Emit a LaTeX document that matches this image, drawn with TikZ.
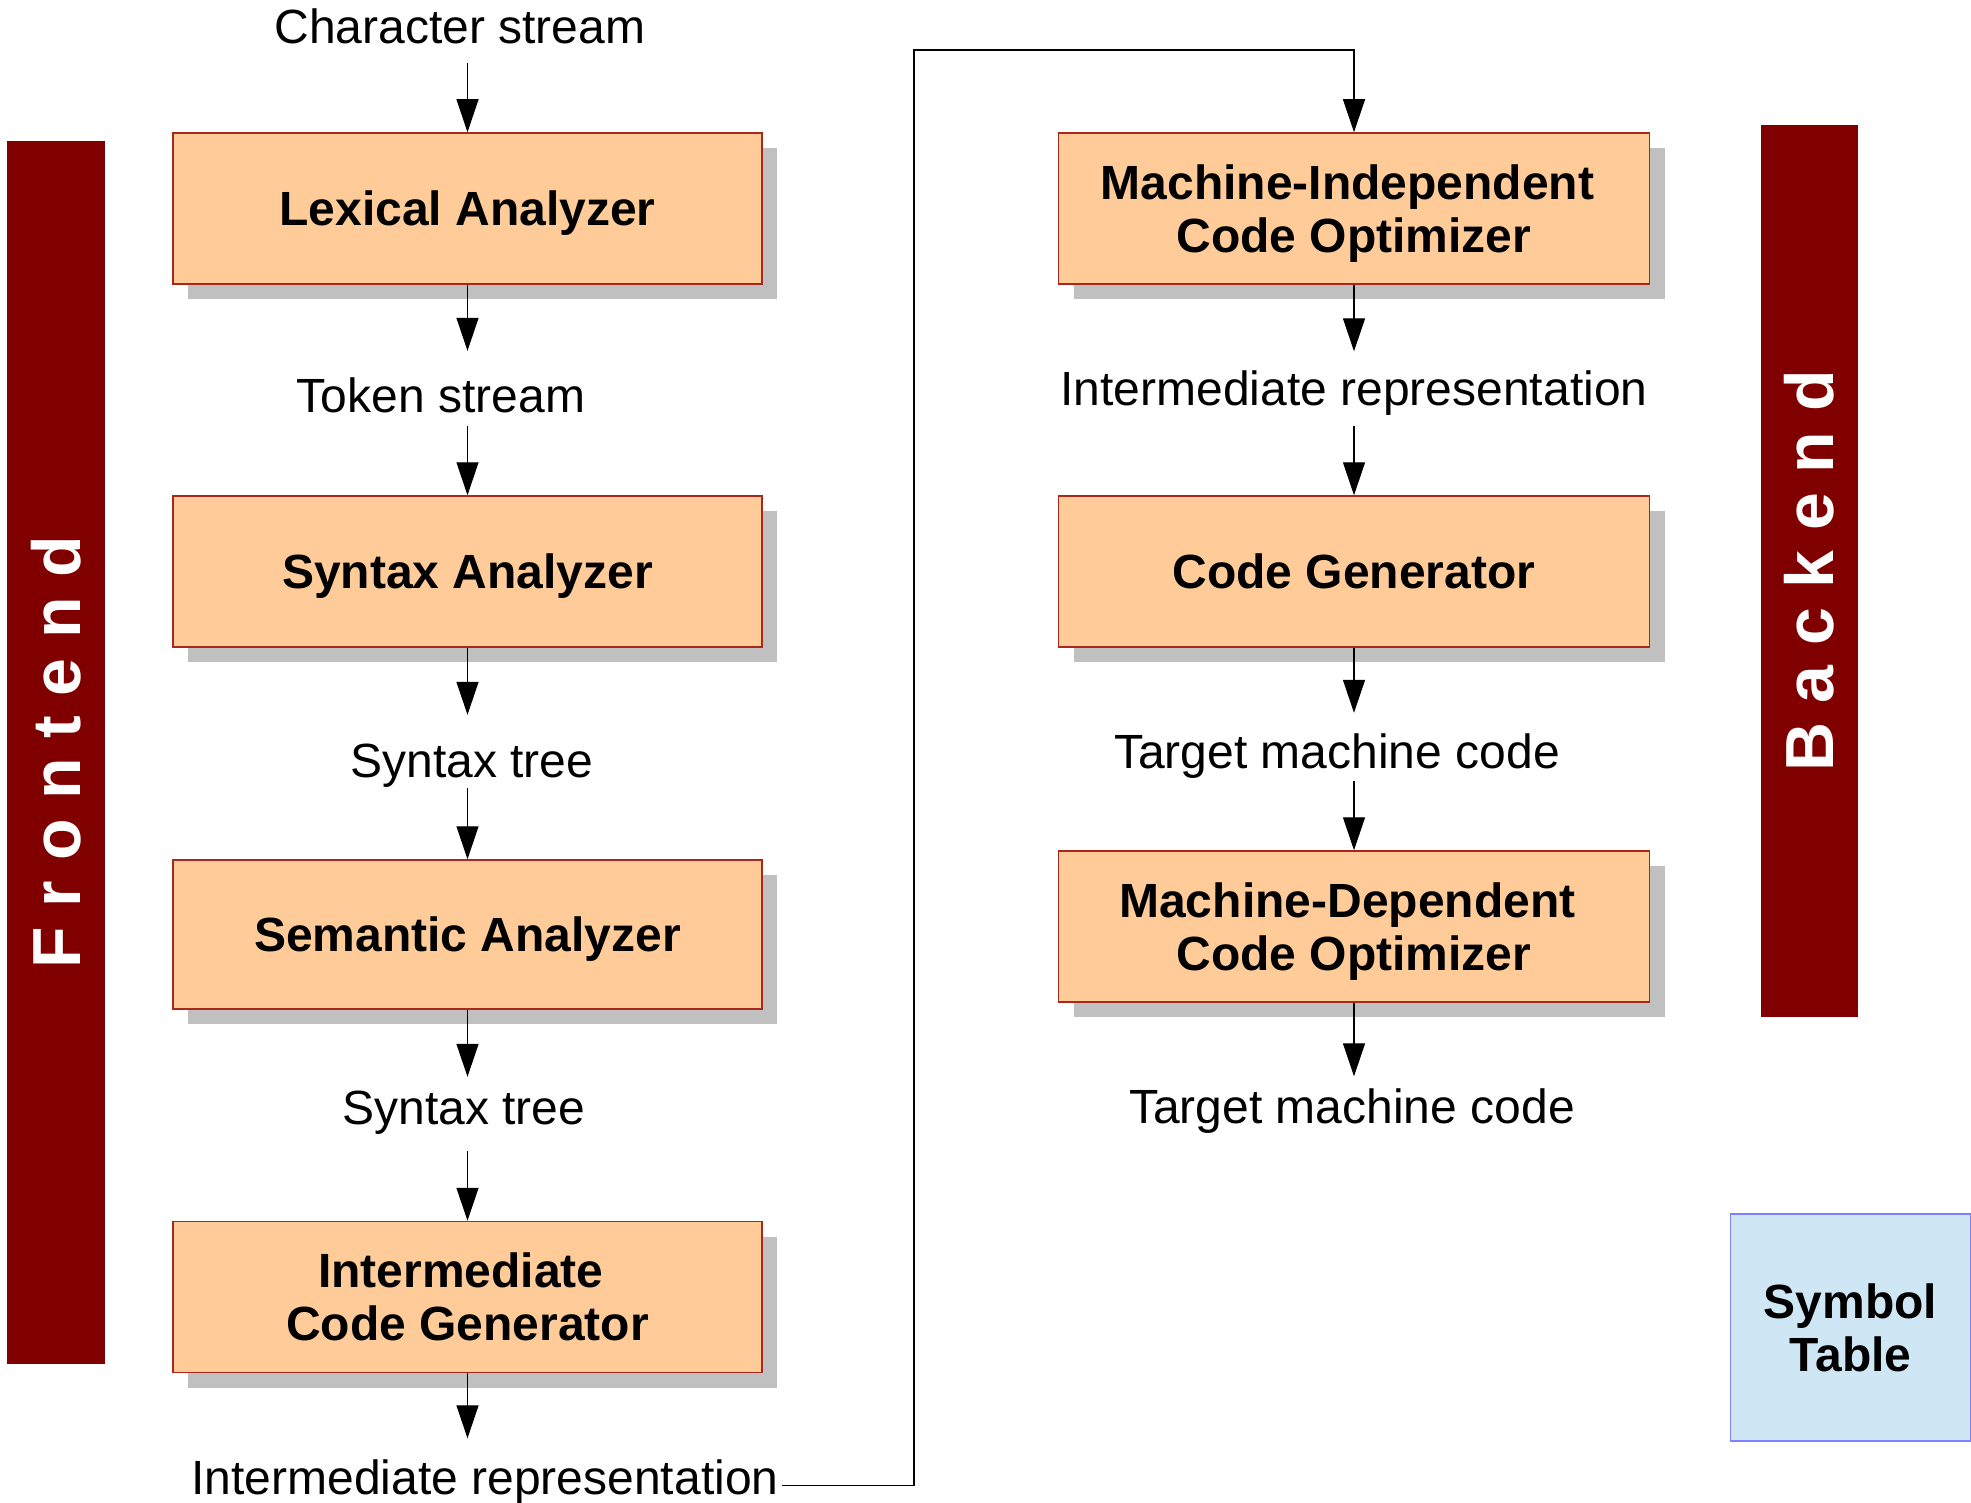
\documentclass[tikz,border=0pt]{standalone}
\usepackage{fontspec}
\setmainfont{Liberation Sans}
\newfontfamily\barfont[LetterSpace=29]{Liberation Sans}
\usetikzlibrary{arrows.meta,shadows}

\definecolor{barred}{HTML}{800000}
\definecolor{boxfill}{HTML}{FFCC99}
\definecolor{boxline}{HTML}{A8281E}
\definecolor{shadowgray}{HTML}{C0C0C0}
\definecolor{symfill}{HTML}{CFE7F5}
\definecolor{symline}{HTML}{7F7FFF}

\newcommand\labfont{\fontsize{48}{53}\selectfont}
\newcommand\stagefont{\bfseries\fontsize{48}{53}\selectfont}
\newcommand\bandfont{\barfont\bfseries\fontsize{68}{70}\selectfont\color{white}}
% first lines of two-line stage names carry a trailing word space
\newcommand\trail{\hspace*{0.278em}}

\begin{document}
\begin{tikzpicture}[x=1pt,y=-1pt,
  stage/.style={draw=boxline, line width=1.5pt, fill=boxfill, inner sep=0pt,
    minimum height=151pt, align=center, font=\stagefont,
    drop shadow={shadow xshift=15pt, shadow yshift=-15pt, fill=shadowgray, opacity=1}},
  leftstage/.style={stage, minimum width=589pt},
  rightstage/.style={stage, minimum width=591pt},
  oneline/.style={text height=34pt, text depth=0pt},
  lab/.style={inner sep=0pt, text height=34pt, text depth=0pt, font=\labfont},
  arr/.style={line width=1.3pt, -{Triangle[length=33pt,width=22pt]}},
  band/.style={fill=barred, draw=none},
]
\useasboundingbox (0,0) rectangle (1971,1503);

% side bands
\fill[band] (7,141) rectangle (105,1364);
\node[rotate=90, inner sep=0pt, font=\bandfont] (fe) at (56,752) {Frontend\hspace{-0.29em}};
\fill[band] (1761,125) rectangle (1858,1017);
\node[rotate=90, inner sep=0pt, font=\bandfont] (be) at (1809.5,571) {Backend\hspace{-0.29em}};

% frontend stages
\node[leftstage, oneline] (lex) at (467.5,208.5) {Lexical Analyzer};
\node[leftstage, oneline] (syn) at (467.5,571.5) {Syntax Analyzer};
\node[leftstage, oneline, minimum height=149pt] (sem) at (467.5,934.5) {Semantic Analyzer};
\node[leftstage] (icg) at (467.5,1297) {Intermediate\trail\\Code Generator};

% backend stages
\node[rightstage] (mico) at (1354,208.5) {\rule{0pt}{44pt}Machine-Independent\trail\\Code Optimizer};
\node[rightstage, oneline] (cg) at (1354,571.5) {Code Generator};
\node[rightstage] (mdco) at (1354,926.5) {\rule{0pt}{44pt}Machine-Dependent\trail\\Code Optimizer};

% symbol table
\node[draw=symline, line width=1.5pt, fill=symfill, inner sep=0pt,
  minimum width=240pt, minimum height=227pt, align=center, font=\stagefont]
  (sym) at (1850.5,1327.5) {Symbol\\Table};

% data labels
\node[lab] (cs)   at (460,26.5)    {Character stream};
\node[lab] (tok)  at (441,396)     {Token stream};
\node[lab] (st1)  at (472,760)     {Syntax tree};
\node[lab] (st2)  at (464,1107)    {Syntax tree};
\node[lab] (ir1)  at (485,1477.5)  {Intermediate representation};
\node[lab] (ir2)  at (1354,388.5)  {Intermediate representation};
\node[lab] (tmc1) at (1337,751)    {Target machine code};
\node[lab] (tmc2) at (1352,1106.5) {Target machine code};

% frontend flow
\draw[arr, shorten <=19pt] (lex.north |- cs.south) -- (lex.north);
\draw[arr, shorten >=28pt] (lex.south) -- (lex.south |- tok.north);
\draw[arr, shorten <=13pt] (syn.north |- tok.south) -- (syn.north);
\draw[arr, shorten >=28pt] (syn.south) -- (syn.south |- st1.north);
\draw[arr, shorten <=11pt] (sem.north |- st1.south) -- (sem.north);
\draw[arr, shorten >=13pt] (sem.south) -- (sem.south |- st2.north);
\draw[arr, shorten <=27pt] (icg.north |- st2.south) -- (icg.north);
\draw[arr, shorten >=22pt] (icg.south) -- (icg.south |- ir1.north);

% hand-over from frontend to backend
\coordinate (turn) at (914,50);
\draw[arr] ([xshift=3pt,yshift=-8pt]ir1.east) -| (turn) -| (mico.north);

% backend flow
\draw[arr, shorten >=20pt] (mico.south) -- (mico.south |- ir2.north);
\draw[arr, shorten <=20pt] (cg.north |- ir2.south) -- (cg.north);
\draw[arr, shorten >=21pt] (cg.south) -- (cg.south |- tmc1.north);
\draw[arr, shorten <=13pt] (mdco.north |- tmc1.south) -- (mdco.north);
\draw[arr, shorten >=13pt] (mdco.south) -- (mdco.south |- tmc2.north);
\end{tikzpicture}
\end{document}
